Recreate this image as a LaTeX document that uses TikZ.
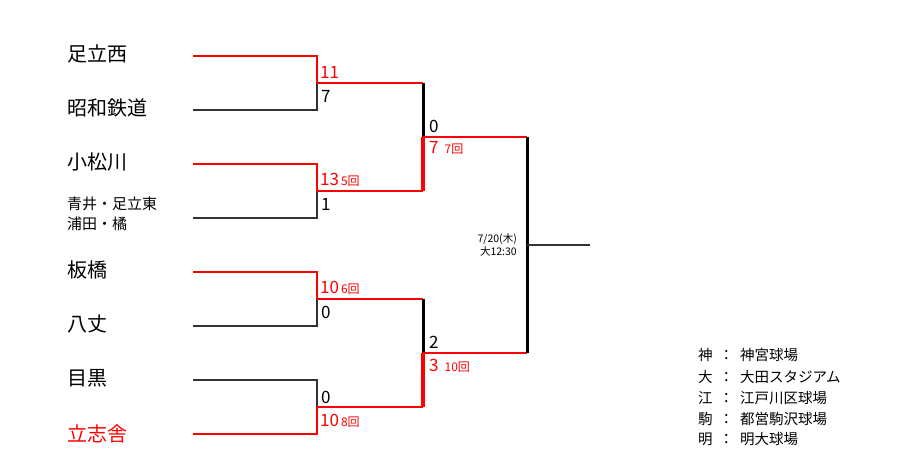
\documentclass[tikz,border=0pt]{standalone}
\usepackage{fontspec}
\setmainfont{Noto Sans CJK JP}
\begin{document}
\begin{tikzpicture}[x=1pt,y=-1pt,
 bk/.style={line width=1.3pt,black!80},
 rd/.style={line width=1.8pt,red},
 bkt/.style={line width=3pt,black},
 rdt/.style={line width=4pt,red},
 team/.style={anchor=west,font=\fontsize{20}{20}\selectfont,inner sep=0},
 sc/.style={anchor=west,font=\fontsize{17}{17}\selectfont,inner sep=0},
 sm/.style={font=\fontsize{10.5}{10.5}\selectfont,inner sep=0},
 lg/.style={anchor=west,font=\fontsize{14.5}{14.5}\selectfont,inner sep=0}]
\useasboundingbox (0,0) rectangle (900,470);
% teams
\node[team] (t1) at (67,54) {足立西};
\node[team] (t2) at (67,108) {昭和鉄道};
\node[team] (t3) at (67,162) {小松川};
\node[team,align=left,font=\fontsize{15}{20}\selectfont] (t4) at (67,214) {青井・足立東\\浦田・橘};
\node[team] (t5) at (67,270) {板橋};
\node[team] (t6) at (67,324) {八丈};
\node[team] (t7) at (67,378) {目黒};
\node[team,red] (t8) at (67,434) {立志舎};
% coordinates
\foreach \i/\y in {1/56,2/110,3/164,4/218,5/272,6/326,7/380,8/434}{
 \coordinate (a\i) at (193,\y); \coordinate (b\i) at (317,\y);}
\coordinate (m1) at (317,83); \coordinate (n1) at (423,83);
\coordinate (m2) at (317,191); \coordinate (n2) at (423,191);
\coordinate (m3) at (317,299); \coordinate (n3) at (423,299);
\coordinate (m4) at (317,407); \coordinate (n4) at (423,407);
\coordinate (p1) at (423,137); \coordinate (q1) at (527,137);
\coordinate (p2) at (423,353); \coordinate (q2) at (527,353);
\coordinate (f) at (527,245); \coordinate (g) at (590,245);
% first round
\draw[rd] (a1)--(b1)--(m1);
\draw[bk] (a2)--(b2)--(m1);
\draw[rd] (a3)--(b3)--(m2);
\draw[bk] (a4)--(b4)--(m2);
\draw[rd] (a5)--(b5)--(m3);
\draw[bk] (a6)--(b6)--(m3);
\draw[bk] (a7)--(b7)--(m4);
\draw[rd] (a8)--(b8)--(m4);
\draw[rd] (m1)--(n1); \draw[rd] (m2)--(n2);
\draw[rd] (m3)--(n3); \draw[rd] (m4)--(n4);
% second round
\draw[bkt] (n1)--(p1);
\draw[rdt] (n2)--(p1);
\draw[bkt] (n3)--(p2);
\draw[rdt] (n4)--(p2);
\draw[rd] (p1)--(q1); \draw[rd] (p2)--(q2);
% final
\draw[bkt] (q1)--(q2);
\draw[bk] (f)--(g);
% scores
\node[sc,red] (s1) at (320,72) {11};
\node[sc] (s2) at (321,96) {7};
\node[sc,red] (s3) at (320,180) {13\kern2pt\fontsize{12}{12}\selectfont 5回};
\node[sc] (s4) at (321,204) {1};
\node[sc,red] (s5) at (320,288) {10\kern2pt\fontsize{12}{12}\selectfont 6回};
\node[sc] (s6) at (321,312) {0};
\node[sc] (s7) at (321,397) {0};
\node[sc,red] (s8) at (320,421) {10\kern2pt\fontsize{12}{12}\selectfont 8回};
\node[sc] (s9) at (429,126) {0};
\node[sc,red] (s10) at (429,148) {7\kern6pt\fontsize{12}{12}\selectfont 7回};
\node[sc] (s11) at (429,342) {2};
\node[sc,red] (s12) at (429,366) {3\kern6pt\fontsize{12}{12}\selectfont 10回};
\node[sm,anchor=east,align=right] (d) at (517,245) {7/20(木)\\[1pt]大12:30};
% legend
\node[lg] (l1) at (698,355) {神\ \ ：\ \ 神宮球場};
\node[lg] (l2) at (698,377) {大\ \ ：\ \ 大田スタジアム};
\node[lg] (l3) at (698,398) {江\ \ ：\ \ 江戸川区球場};
\node[lg] (l4) at (698,419) {駒\ \ ：\ \ 都営駒沢球場};
\node[lg] (l5) at (698,439) {明\ \ ：\ \ 明大球場};
\end{tikzpicture}
\end{document}
